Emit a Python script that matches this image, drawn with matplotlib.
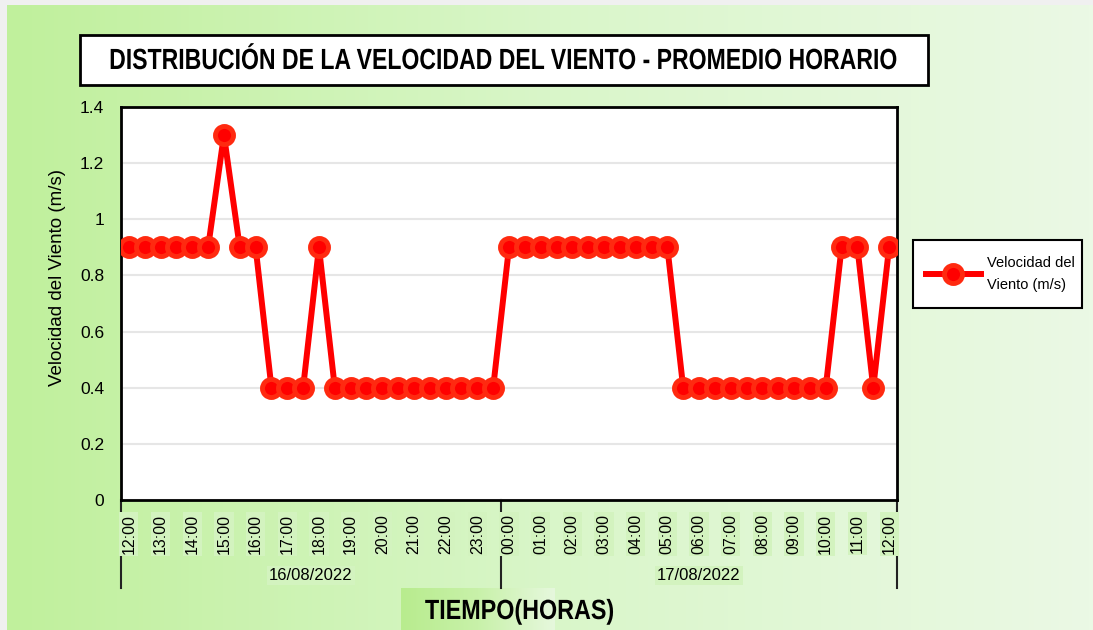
import numpy as np
import matplotlib
matplotlib.use("Agg")
from matplotlib import pyplot as plt
from matplotlib import patches
from matplotlib.colors import LinearSegmentedColormap
from matplotlib.patheffects import AbstractPathEffect
import matplotlib.transforms as mtransforms

# data: half-hourly wind speed, 16/08/2022 12:00 -> 17/08/2022 12:00
hours = ["12:00", "13:00", "14:00", "15:00", "16:00", "17:00", "18:00", "19:00",
         "20:00", "21:00", "22:00", "23:00", "00:00", "01:00", "02:00", "03:00",
         "04:00", "05:00", "06:00", "07:00", "08:00", "09:00", "10:00", "11:00",
         "12:00"]
dates = ["16/08/2022", "17/08/2022"]
speed = [0.9, 0.9, 0.9, 0.9, 0.9, 0.9, 1.3, 0.9, 0.9, 0.4,
         0.4, 0.4, 0.9, 0.4, 0.4, 0.4, 0.4, 0.4, 0.4, 0.4,
         0.4, 0.4, 0.4, 0.4, 0.9, 0.9, 0.9, 0.9, 0.9, 0.9,
         0.9, 0.9, 0.9, 0.9, 0.9, 0.4, 0.4, 0.4, 0.4, 0.4,
         0.4, 0.4, 0.4, 0.4, 0.4, 0.9, 0.9, 0.4, 0.9]
day_split = 24  # first point of 17/08

W, H = 1093, 630
plt.rcParams["font.family"] = ["Liberation Sans", "DejaVu Sans"]


class Narrow(AbstractPathEffect):
    """squeeze text horizontally around x=cx (pixels), fakes Arial Narrow"""
    def __init__(self, cx, sx):
        super().__init__()
        self.cx, self.sx = cx, sx

    def draw_path(self, renderer, gc, tpath, affine, rgbFace=None):
        squeeze = mtransforms.Affine2D().translate(-self.cx, 0).scale(self.sx, 1).translate(self.cx, 0)
        renderer.draw_path(gc, tpath, affine + squeeze, rgbFace)


fig = plt.figure(figsize=(W / 100, H / 100), dpi=100)
fig.patch.set_facecolor("#f0f0f0")

# green gradient background
bg = fig.add_axes([7 / W, 0, 1 - 7 / W, 1 - 5 / H], zorder=-10)
cmap = LinearSegmentedColormap.from_list("bg", ["#c0f09c", "#d9f6c9", "#ebf9e5"])
bg.imshow(np.linspace(0, 1, 256)[None, :], aspect="auto", cmap=cmap, extent=[0, 1, 0, 1])
bg.set_axis_off()

# box behind x axis title
tb = fig.add_axes([401 / W, 0, 153 / W, 42 / H], zorder=-5)
cmap2 = LinearSegmentedColormap.from_list("tb", ["#b8ec8e", "#c8f1a9", "#e6f8dd"])
tb.imshow(np.linspace(0, 1, 256)[None, :], aspect="auto", cmap=cmap2, extent=[0, 1, 0, 1])
tb.set_axis_off()

# title box
fig.patches.append(patches.Rectangle((80 / W, 1 - 85 / H), 848 / W, 50 / H,
                                     transform=fig.transFigure, facecolor="white",
                                     edgecolor="black", linewidth=2))
fig.text(503.5 / W, 1 - 61 / H, "DISTRIBUCIÓN DE LA VELOCIDAD DEL VIENTO - PROMEDIO HORARIO",
         ha="center", va="center", fontsize=21, fontweight="bold",
         path_effects=[Narrow(503.5, 0.79)])

ax = fig.add_axes([121 / W, 1 - 500 / H, 776 / W, 393 / H])
ax.set_facecolor("white")
x = np.arange(len(speed))
ax.plot(x, speed, color="#ff0000", linewidth=4.3, marker="o", markersize=13,
        markerfacecolor="#ff0000", markeredgecolor="#ff2a10", markeredgewidth=3.5,
        label="Velocidad del\nViento (m/s)", zorder=3)

ax.set_xlim(-0.5, len(speed) - 0.5)
ax.set_ylim(0, 1.4)
ax.set_yticks(np.arange(0, 1.41, 0.2))
ax.set_yticklabels(["0", "0.2", "0.4", "0.6", "0.8", "1", "1.2", "1.4"], fontsize=12.5)
ax.grid(axis="y", color="#e6e6e6", linewidth=1.5)
ax.set_axisbelow(True)
for s in ax.spines.values():
    s.set_color("black")
    s.set_linewidth(2)

ax.set_xticks(x[::2])
ax.set_xticklabels(hours, rotation=90, fontsize=11.5)
for lbl in ax.get_xticklabels():
    lbl.set_bbox(dict(facecolor="#d3f3bf", edgecolor="none", pad=1.5))
ax.tick_params(axis="x", length=0, pad=10)
ax.tick_params(axis="y", length=0, pad=12)

# date group lines and labels
trans = mtransforms.blended_transform_factory(ax.transData, ax.transAxes)
for xv in [-0.5, day_split - 0.5, len(speed) - 0.5]:
    ax.plot([xv, xv], [0, -88 / 393], transform=trans, color="#222222",
            linewidth=1.5, clip_on=False, zorder=0)
centers = [(day_split - 1) / 2, (day_split - 0.5 + len(speed) - 0.5) / 2]
for c, d in zip(centers, dates):
    ax.text(c, -75 / 393, d, transform=trans, ha="center", va="center", fontsize=12,
            bbox=dict(facecolor="#d3f3bf", edgecolor="none", pad=1.5))

fig.text(519.5 / W, 1 - 612 / H, "TIEMPO(HORAS)", ha="center", va="center",
         fontsize=20, fontweight="bold", path_effects=[Narrow(519.5, 0.84)])
fig.text(57 / W, 1 - 278 / H, "Velocidad del Viento (m/s)", rotation=90,
         ha="center", va="center", fontsize=13.5)

# legend with its own box (drawn below the axes so the entry stays visible)
fig.patches.append(patches.Rectangle((913 / W, 1 - 308 / H), 169 / W, 68 / H,
                                     transform=fig.transFigure, facecolor="white",
                                     edgecolor="black", linewidth=1.5, zorder=-1))
leg = ax.legend(loc="center left", bbox_to_anchor=(926 / W, 1 - 274 / H),
                bbox_transform=fig.transFigure, borderaxespad=0, borderpad=0,
                frameon=False, handlelength=3.77, handletextpad=0.4,
                prop={"size": 10.5})
for t in leg.get_texts():
    t.set_linespacing(1.75)

fig.savefig("out.png", dpi=100, facecolor=fig.get_facecolor())
